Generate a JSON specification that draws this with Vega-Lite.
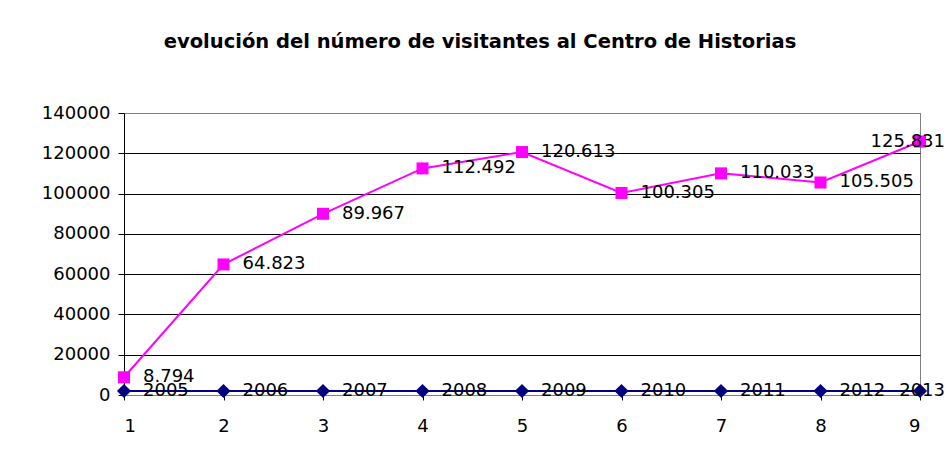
{
  "$schema": "https://vega.github.io/schema/vega-lite/v6.json",
  "width": 796,
  "height": 282,
  "autosize": {"type": "none"},
  "padding": {"left": 124, "top": 113, "right": 29, "bottom": 70},
  "background": "white",
  "title": {
    "text": "evolución del número de visitantes al Centro de Historias",
    "font": "DejaVu Sans",
    "fontSize": 19.5,
    "fontWeight": "bold",
    "color": "black",
    "anchor": "middle",
    "frame": "group",
    "dx": -42,
    "offset": 52
  },
  "config": {
    "locale": {"number": {"decimal": ",", "thousands": ".", "grouping": [3], "currency": ["", " €"]}},
    "view": {"stroke": "#808080", "strokeWidth": 1},
    "axis": {
      "labelFont": "DejaVu Sans",
      "labelFontSize": 18,
      "labelColor": "black",
      "tickColor": "black",
      "title": null
    }
  },
  "data": {
    "values": [
      {"n": 1, "anio": 2005, "visitantes": 8794},
      {"n": 2, "anio": 2006, "visitantes": 64823},
      {"n": 3, "anio": 2007, "visitantes": 89967},
      {"n": 4, "anio": 2008, "visitantes": 112492},
      {"n": 5, "anio": 2009, "visitantes": 120613},
      {"n": 6, "anio": 2010, "visitantes": 100305},
      {"n": 7, "anio": 2011, "visitantes": 110033},
      {"n": 8, "anio": 2012, "visitantes": 105505},
      {"n": 9, "anio": 2013, "visitantes": 125831}
    ]
  },
  "encoding": {
    "x": {
      "field": "n",
      "type": "quantitative",
      "scale": {"domain": [1, 9], "nice": false, "zero": false},
      "axis": {
        "values": [1, 2, 3, 4, 5, 6, 7, 8, 9],
        "format": "d",
        "grid": false,
        "domainColor": "#808080",
        "tickSize": 5,
        "labelPadding": 17
      }
    }
  },
  "layer": [
    {
      "mark": {"type": "line", "color": "#000080", "strokeWidth": 2, "point": {"shape": "diamond", "size": 200, "filled": true, "color": "#000080"}},
      "encoding": {
        "y": {
          "field": "anio",
          "type": "quantitative",
          "scale": {"domain": [0, 140000], "nice": false},
          "axis": {
            "values": [0, 20000, 40000, 60000, 80000, 100000, 120000, 140000],
            "format": "d",
            "grid": true,
            "gridColor": {"condition": {"test": "datum.value == 140000 || datum.value == 0", "value": "#808080"}, "value": "black"},
            "gridOpacity": 1,
            "domainColor": "black",
            "tickSize": 6,
            "labelPadding": 8
          }
        }
      }
    },
    {
      "mark": {"type": "line", "color": "#FF00FF", "strokeWidth": 2, "point": {"shape": "square", "size": 144, "filled": true, "color": "#FF00FF"}},
      "encoding": {"y": {"field": "visitantes", "type": "quantitative"}}
    },
    {
      "transform": [{"filter": "datum.n < 9"}],
      "mark": {"type": "text", "align": "left", "baseline": "middle", "dx": 19, "font": "DejaVu Sans", "fontSize": 18, "color": "black"},
      "encoding": {"y": {"field": "anio", "type": "quantitative"}, "text": {"field": "anio", "type": "quantitative", "format": "d"}}
    },
    {
      "transform": [{"filter": "datum.n == 9"}],
      "mark": {"type": "text", "align": "right", "baseline": "middle", "dx": 25, "font": "DejaVu Sans", "fontSize": 18, "color": "black"},
      "encoding": {"y": {"field": "anio", "type": "quantitative"}, "text": {"field": "anio", "type": "quantitative", "format": "d"}}
    },
    {
      "transform": [{"filter": "datum.n < 9"}],
      "mark": {"type": "text", "align": "left", "baseline": "middle", "dx": 19, "font": "DejaVu Sans", "fontSize": 18, "color": "black"},
      "encoding": {"y": {"field": "visitantes", "type": "quantitative"}, "text": {"field": "visitantes", "type": "quantitative", "format": ",d"}}
    },
    {
      "transform": [{"filter": "datum.n == 9"}],
      "mark": {"type": "text", "align": "right", "baseline": "middle", "dx": 25, "font": "DejaVu Sans", "fontSize": 18, "color": "black"},
      "encoding": {"y": {"field": "visitantes", "type": "quantitative"}, "text": {"field": "visitantes", "type": "quantitative", "format": ",d"}}
    }
  ]
}
